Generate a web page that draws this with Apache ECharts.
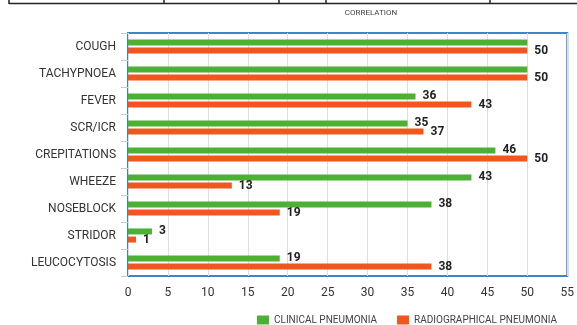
<!DOCTYPE html>
<html>
<head>
<meta charset="utf-8">
<script src="https://cdn.jsdelivr.net/npm/echarts@6/dist/echarts.min.js"></script>
<style>
	html, body {margin: 0; padding: 0; background: #fff;}
	#chart {width: 577px; height: 325px;}
</style>
</head>
<body>
<div id="chart"></div>
<script>
	const categories = ['COUGH', 'TACHYPNOEA', 'FEVER', 'SCR/ICR', 'CREPITATIONS', 'WHEEZE', 'NOSEBLOCK', 'STRIDOR', 'LEUCOCYTOSIS'];
	const clinical = [50, 50, 36, 35, 46, 43, 38, 3, 19];
	const radiographical = [50, 50, 43, 37, 50, 13, 19, 1, 38];
	// clinical labels hidden in the original where they'd collide
	const clinicalHidden = ['COUGH', 'TACHYPNOEA'];

	const green = '#4cb034';
	const orange = '#f0561d';

	let chart = echarts.init(document.getElementById('chart'));

	const labelStyle = {
		show: true,
		position: 'right',
		color: '#222',
		fontSize: 12,
		fontWeight: 'bold',
		fontFamily: 'Roboto',
		distance: 7
	};

	// bits of the table above the chart (cropped page)
	const tableCols = [9, 164, 279, 326, 490];
	const tableLines = [{type: 'line', shape: {x1: 9, y1: 3.5, x2: 577, y2: 3.5}, style: {stroke: '#222', lineWidth: 1.5}}];
	tableCols.forEach(x => tableLines.push({type: 'line', shape: {x1: x, y1: 0, x2: x, y2: 4}, style: {stroke: '#222', lineWidth: 1.5}}));

	let option = {
		animation: false,
		title: {
			text: 'CORRELATION',
			left: 366,
			top: 4,
			textAlign: 'center',
			textStyle: {fontSize: 8, fontWeight: 'normal', color: '#444', fontFamily: 'Roboto'}
		},
		graphic: tableLines,
		legend: {
			data: ['CLINICAL PNEUMONIA', 'RADIOGRAPHICAL PNEUMONIA'],
			left: 252,
			top: 310,
			itemWidth: 12,
			itemHeight: 9,
			itemGap: 20,
			icon: 'rect',
			textStyle: {fontSize: 10, color: '#444', fontFamily: 'Roboto'}
		},
		grid: {
			left: 128,
			right: 6,
			top: 33,
			bottom: 49,
			show: true,
			borderColor: '#3d85c6',
			borderWidth: 2,
			containLabel: false
		},
		xAxis: {
			type: 'value',
			min: 0,
			max: 55,
			interval: 5,
			axisLine: {show: false},
			axisTick: {show: false},
			axisLabel: {color: '#333', fontSize: 12, fontFamily: 'Roboto', margin: 11},
			splitLine: {lineStyle: {color: '#ddd', width: 1}}
		},
		yAxis: {
			type: 'category',
			data: categories,
			inverse: true,
			axisLine: {show: false},
			axisTick: {show: true, length: 7, lineStyle: {color: '#ccc'}},
			axisLabel: {color: '#333', fontSize: 12, fontFamily: 'Roboto', margin: 12},
			splitLine: {show: false}
		},
		series: [
			{
				name: 'CLINICAL PNEUMONIA',
				type: 'bar',
				data: clinical.map((v, i) => clinicalHidden.includes(categories[i]) ? {value: v, label: {show: false}} : v),
				barWidth: 6,
				barGap: '35%',
				itemStyle: {color: green},
				label: labelStyle
			},
			{
				name: 'RADIOGRAPHICAL PNEUMONIA',
				type: 'bar',
				data: radiographical,
				barWidth: 6,
				itemStyle: {color: orange},
				label: labelStyle
			}
		]
	};
	chart.setOption(option);
</script>
</body>
</html>
